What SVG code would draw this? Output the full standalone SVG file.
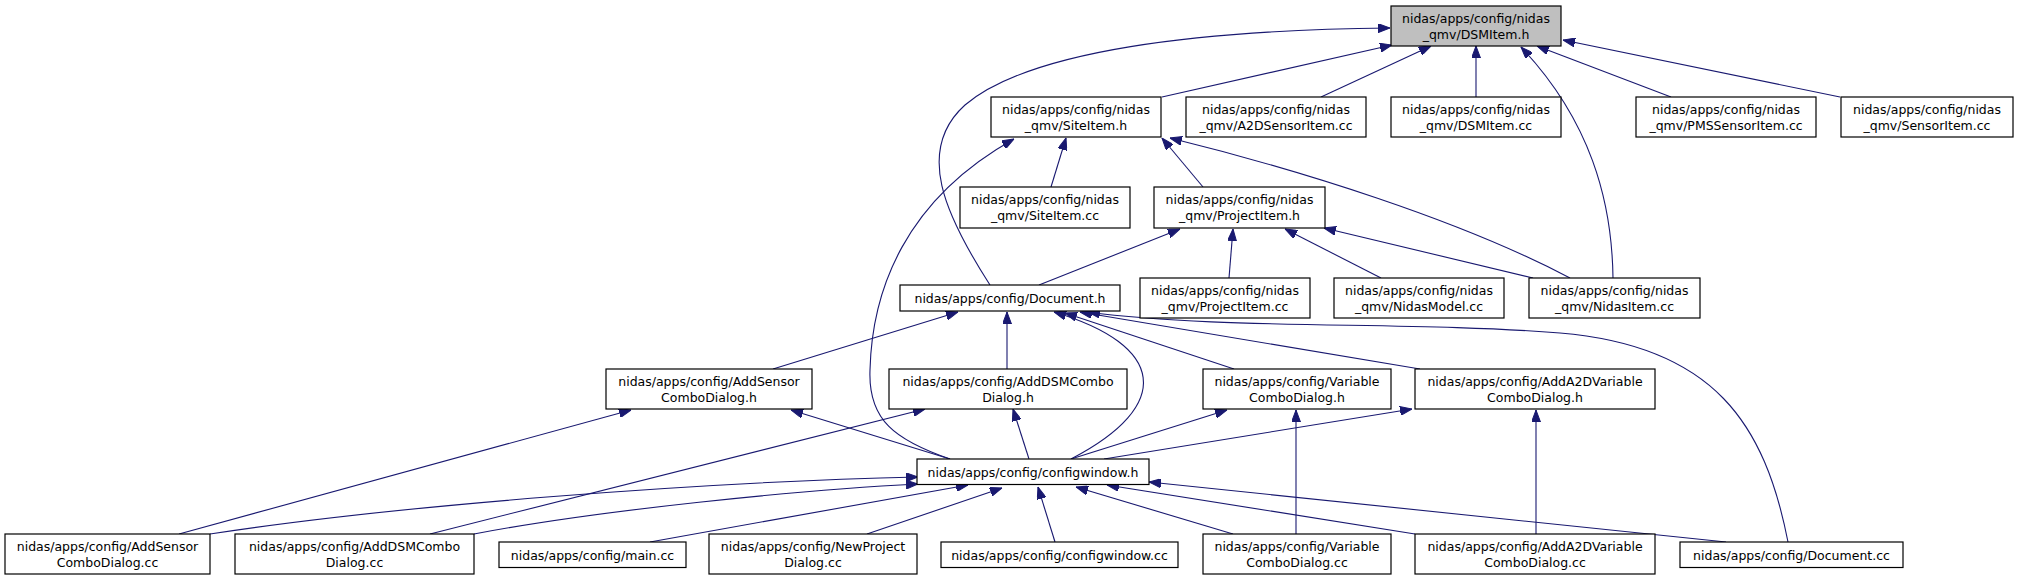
<svg xmlns="http://www.w3.org/2000/svg" width="2017" height="581" viewBox="0 0 2017 581">
<style>
.n rect{fill:#ffffff;stroke:#000000;stroke-width:1.2}
.n.root rect{fill:#bfbfbf}
.n text{font-family:"DejaVu Sans",sans-serif;font-size:12.5px;fill:#000000;text-anchor:middle}
#edges path{fill:none;stroke:#191970;stroke-width:1.1;marker-end:url(#ah)}
</style>
<defs>
<marker id="ah" markerUnits="userSpaceOnUse" markerWidth="12" markerHeight="9" refX="12" refY="4.5" orient="auto" viewBox="0 0 12 9">
<path d="M0,0 L12,4.5 L0,9 z" fill="#191970" stroke="#191970" stroke-width="1"/>
</marker>
</defs>
<rect width="2017" height="581" fill="#ffffff"/>
<g id="edges">
<path d="M1162,97 L1392,45"/>
<path d="M1321,97 L1431,46"/>
<path d="M1476,97 L1476,46"/>
<path d="M1613,278 C1612,200 1590,120 1521,47"/>
<path d="M1671,97 L1537,46"/>
<path d="M1840,97 L1563,40"/>
<path d="M990,285 C945,215 915,150 965,105 C1030,50 1200,30 1390,28"/>
<path d="M1051,187 L1066,138"/>
<path d="M1203,187 L1162,138"/>
<path d="M1570,278 C1460,220 1300,170 1170,138"/>
<path d="M950,459 C895,440 868,420 870,370 C872,290 905,200 1014,139"/>
<path d="M1039,285 L1180,229"/>
<path d="M1229,278 L1233,229"/>
<path d="M1381,278 L1285,229"/>
<path d="M1533,278 L1324,228"/>
<path d="M773,369 L958,312"/>
<path d="M1007,369 L1007,312"/>
<path d="M1071,459 C1175,405 1165,345 1054,312"/>
<path d="M1234,369 L1065,313"/>
<path d="M1420,369 L1080,312"/>
<path d="M1788,542 C1765,425 1715,346 1560,333 C1410,321 1220,330 1088,312"/>
<path d="M179,534 L631,410"/>
<path d="M950,459 L791,410"/>
<path d="M430,534 L925,409"/>
<path d="M1029,459 L1013,409"/>
<path d="M1071,459 L1227,410"/>
<path d="M1296,534 L1296,410"/>
<path d="M1104,459 L1412,409"/>
<path d="M1536,534 L1536,410"/>
<path d="M210,534 C400,505 700,482 918,477"/>
<path d="M474,534 C600,510 800,490 918,484"/>
<path d="M650,542 L968,485"/>
<path d="M867,534 L1002,488"/>
<path d="M1055,542 L1038,487"/>
<path d="M1233,534 L1076,487"/>
<path d="M1415,534 L1107,485"/>
<path d="M1726,542 L1149,482"/>
</g>
<g id="n_dsmitem_h" class="n root"><rect x="1391" y="6" width="170" height="40"/><text x="1476" y="22.5">nidas/apps/config/nidas</text><text x="1476" y="39">_qmv/DSMItem.h</text></g>
<g id="n_siteitem_h" class="n"><rect x="991" y="97" width="170" height="40"/><text x="1076" y="113.5">nidas/apps/config/nidas</text><text x="1076" y="130">_qmv/SiteItem.h</text></g>
<g id="n_a2dsensoritem_cc" class="n"><rect x="1186" y="97" width="180" height="40"/><text x="1276" y="113.5">nidas/apps/config/nidas</text><text x="1276" y="130">_qmv/A2DSensorItem.cc</text></g>
<g id="n_dsmitem_cc" class="n"><rect x="1391" y="97" width="170" height="40"/><text x="1476" y="113.5">nidas/apps/config/nidas</text><text x="1476" y="130">_qmv/DSMItem.cc</text></g>
<g id="n_pmssensoritem_cc" class="n"><rect x="1636" y="97" width="180" height="40"/><text x="1726" y="113.5">nidas/apps/config/nidas</text><text x="1726" y="130">_qmv/PMSSensorItem.cc</text></g>
<g id="n_sensoritem_cc" class="n"><rect x="1841" y="97" width="172" height="40"/><text x="1927" y="113.5">nidas/apps/config/nidas</text><text x="1927" y="130">_qmv/SensorItem.cc</text></g>
<g id="n_siteitem_cc" class="n"><rect x="960" y="187" width="170" height="41"/><text x="1045" y="203.5">nidas/apps/config/nidas</text><text x="1045" y="220">_qmv/SiteItem.cc</text></g>
<g id="n_projectitem_h" class="n"><rect x="1154" y="187" width="171" height="41"/><text x="1239.5" y="203.5">nidas/apps/config/nidas</text><text x="1239.5" y="220">_qmv/ProjectItem.h</text></g>
<g id="n_document_h" class="n"><rect x="900" y="285" width="220" height="26"/><text x="1010" y="302.5">nidas/apps/config/Document.h</text></g>
<g id="n_projectitem_cc" class="n"><rect x="1140" y="278" width="170" height="40"/><text x="1225" y="294.5">nidas/apps/config/nidas</text><text x="1225" y="311">_qmv/ProjectItem.cc</text></g>
<g id="n_nidasmodel_cc" class="n"><rect x="1334" y="278" width="170" height="40"/><text x="1419" y="294.5">nidas/apps/config/nidas</text><text x="1419" y="311">_qmv/NidasModel.cc</text></g>
<g id="n_nidasitem_cc" class="n"><rect x="1529" y="278" width="171" height="40"/><text x="1614.5" y="294.5">nidas/apps/config/nidas</text><text x="1614.5" y="311">_qmv/NidasItem.cc</text></g>
<g id="n_addsensorcombodialog_h" class="n"><rect x="606" y="369" width="206" height="40"/><text x="709" y="385.5">nidas/apps/config/AddSensor</text><text x="709" y="402">ComboDialog.h</text></g>
<g id="n_adddsmcombodialog_h" class="n"><rect x="889" y="369" width="238" height="40"/><text x="1008" y="385.5">nidas/apps/config/AddDSMCombo</text><text x="1008" y="402">Dialog.h</text></g>
<g id="n_variablecombodialog_h" class="n"><rect x="1203" y="369" width="188" height="40"/><text x="1297" y="385.5">nidas/apps/config/Variable</text><text x="1297" y="402">ComboDialog.h</text></g>
<g id="n_adda2dvariablecombodialog_h" class="n"><rect x="1415" y="369" width="240" height="40"/><text x="1535" y="385.5">nidas/apps/config/AddA2DVariable</text><text x="1535" y="402">ComboDialog.h</text></g>
<g id="n_configwindow_h" class="n"><rect x="917" y="459" width="232" height="25.5"/><text x="1033" y="476.5">nidas/apps/config/configwindow.h</text></g>
<g id="n_addsensorcombodialog_cc" class="n"><rect x="5" y="534" width="205" height="40"/><text x="107.5" y="550.5">nidas/apps/config/AddSensor</text><text x="107.5" y="567">ComboDialog.cc</text></g>
<g id="n_adddsmcombodialog_cc" class="n"><rect x="235" y="534" width="239" height="40"/><text x="354.5" y="550.5">nidas/apps/config/AddDSMCombo</text><text x="354.5" y="567">Dialog.cc</text></g>
<g id="n_main_cc" class="n"><rect x="499" y="542" width="187" height="25.5"/><text x="592.5" y="559.5">nidas/apps/config/main.cc</text></g>
<g id="n_newprojectdialog_cc" class="n"><rect x="709" y="534" width="208" height="40"/><text x="813" y="550.5">nidas/apps/config/NewProject</text><text x="813" y="567">Dialog.cc</text></g>
<g id="n_configwindow_cc" class="n"><rect x="941" y="542" width="237" height="25.5"/><text x="1059.5" y="559.5">nidas/apps/config/configwindow.cc</text></g>
<g id="n_variablecombodialog_cc" class="n"><rect x="1203" y="534" width="188" height="40"/><text x="1297" y="550.5">nidas/apps/config/Variable</text><text x="1297" y="567">ComboDialog.cc</text></g>
<g id="n_adda2dvariablecombodialog_cc" class="n"><rect x="1415" y="534" width="240" height="40"/><text x="1535" y="550.5">nidas/apps/config/AddA2DVariable</text><text x="1535" y="567">ComboDialog.cc</text></g>
<g id="n_document_cc" class="n"><rect x="1680" y="542" width="223" height="25.5"/><text x="1791.5" y="559.5">nidas/apps/config/Document.cc</text></g>
</svg>
